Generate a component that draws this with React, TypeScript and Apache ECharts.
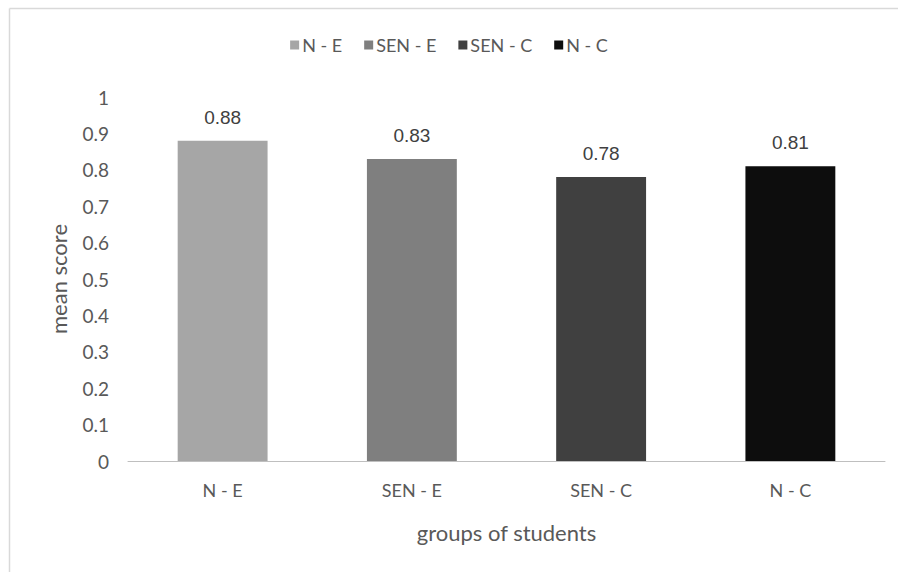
import React, { useEffect, useRef } from "react";
import * as echarts from "echarts";

const categories = ["N - E", "SEN - E", "SEN - C", "N - C"];
const values = [0.88, 0.83, 0.78, 0.81];
const colors = ["#a6a6a6", "#7f7f7f", "#404040", "#0d0d0d"];
const yTicks = [0, 0.1, 0.2, 0.3, 0.4, 0.5, 0.6, 0.7, 0.8, 0.9, 1];

export default function App() {
  const ref = useRef<HTMLDivElement>(null);
  useEffect(() => {
    if (!ref.current) return;
    const chart = echarts.init(ref.current, undefined, { renderer: "svg" });
    const series = categories.map((name, i) => ({
      name,
      type: "bar",
      barWidth: "47.5%",
      barGap: "-100%",
      data: values.map((v, j) => (j === i ? v : null)),
      itemStyle: { color: colors[i] },
      label: {
        show: true,
        position: "top",
        distance: 14,
        fontFamily: "Liberation Sans",
        fontSize: 19,
        color: "#404040",
        formatter: (p: any) => String(p.value),
      },
    }));
    chart.setOption({
      animation: false,
      backgroundColor: "#ffffff",
      legend: {
        top: 31,
        left: "center",
        itemWidth: 9,
        itemHeight: 9,
        itemGap: 22,
        icon: "rect",
        textStyle: { fontFamily: "Lato", fontSize: 18, color: "#595959", padding: [0, 0, 0, -2] },
        data: categories,
      },
      grid: { left: 128, right: 13, top: 97, bottom: 111, containLabel: false },
      xAxis: {
        type: "category",
        data: categories,
        name: "groups of students",
        nameLocation: "middle",
        nameGap: 60,
        nameTextStyle: { fontFamily: "Lato", fontSize: 22, color: "#595959" },
        axisLine: { show: true, lineStyle: { color: "#bfbfbf", width: 1 } },
        axisTick: { show: false },
        axisLabel: { fontFamily: "Lato", fontSize: 18, color: "#595959", margin: 20 },
      },
      yAxis: {
        type: "value",
        min: yTicks[0],
        max: yTicks[yTicks.length - 1],
        interval: 0.1,
        name: "mean score",
        nameLocation: "middle",
        nameGap: 59,
        nameTextStyle: { fontFamily: "Lato", fontSize: 22, color: "#595959" },
        axisLine: { show: false },
        axisTick: { show: false },
        splitLine: { show: false },
        axisLabel: {
          fontFamily: "Lato",
          fontSize: 19,
          color: "#595959",
          margin: 19,
          formatter: (v: number) => String(Math.round(v * 10) / 10),
        },
      },
      graphic: [
        { type: "line", shape: { x1: 9.5, y1: 8.5, x2: 898, y2: 8.5 }, style: { stroke: "#d9d9d9", lineWidth: 1.5 } },
        { type: "line", shape: { x1: 9.5, y1: 8.5, x2: 9.5, y2: 572 }, style: { stroke: "#d9d9d9", lineWidth: 1.5 } },
      ],
      series,
    });
    return () => chart.dispose();
  }, []);
  return (
    <div
      ref={ref}
      style={{ position: "fixed", left: 0, top: 0, width: 898, height: 572 }}
    />
  );
}
